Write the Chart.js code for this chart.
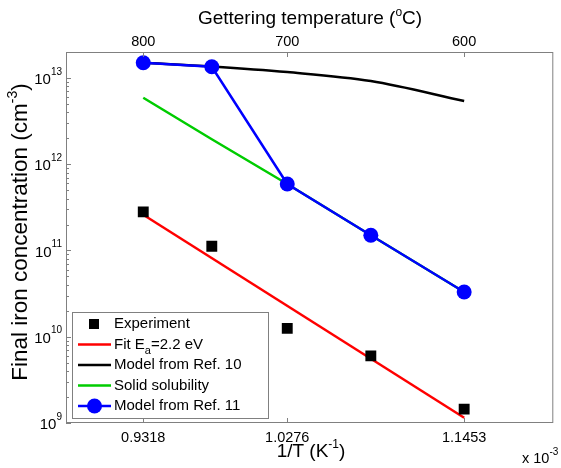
<!DOCTYPE html>
<html>
<head>
<meta charset="utf-8">
<script src="https://cdn.jsdelivr.net/npm/chart.js@4.4.0/dist/chart.umd.min.js"></script>
<style>
  body { margin: 0; background: #fff; }
  canvas { display: block; }
</style>
</head>
<body>
<canvas id="myChart" width="561" height="468"></canvas>
<script>
// Data (1/T in units of 1e-3 K^-1)
var invT = [0.9318, 0.9774, 1.0276, 1.0832, 1.1453];   // 800, 750, 700, 650, 600 C
var experiment = [2.8e11, 1.12e11, 1.25e10, 6.0e9, 1.45e9];
var fitX = [0.9318, 1.1453];
var fitY = [2.6e11, 1.15e9];
var ref10 = [1.5e13, 1.36e13, 1.17e13, 9.2e12, 5.4e12];
var solubility = [5.9e12, 1.95e12, 5.9e11, 1.5e11, 3.3e10];
var ref11 = [1.5e13, 1.35e13, 5.9e11, 1.5e11, 3.3e10];

var bottomTicks = [0.9318, 1.0276, 1.1453];
var topTemps = [800, 700, 600];
var yExponents = [9, 10, 11, 12, 13];

function pts(xs, ys) {
    return xs.map(function (x, i) { return { x: x, y: ys[i] }; });
}

var FONT = "'Liberation Sans', Arial, sans-serif";
var AXIS = "#808080";

// draw text made of parts [{t, size, dy}]
function rich(ctx, parts, x, y, align) {
    var w = 0;
    parts.forEach(function (p) {
        ctx.font = p.size + "px " + FONT;
        p.w = ctx.measureText(p.t).width;
        w += p.w;
    });
    var cx = align === "center" ? x - w / 2 : (align === "right" ? x - w : x);
    ctx.textAlign = "left";
    ctx.textBaseline = "middle";
    parts.forEach(function (p) {
        ctx.font = p.size + "px " + FONT;
        ctx.fillText(p.t, cx, y + (p.dy || 0));
        cx += p.w;
    });
}

var frame = {
    id: "frame",
    afterDraw: function (chart) {
        var ctx = chart.ctx, a = chart.chartArea;
        var xs = chart.scales.x, ys = chart.scales.y;
        ctx.save();
        ctx.strokeStyle = AXIS;
        ctx.lineWidth = 1;
        ctx.strokeRect(a.left + 0.5, a.top + 0.5, a.right - a.left - 1, a.bottom - a.top - 1);

        ctx.beginPath();
        // y ticks, major and minor, inside on left
        yExponents.forEach(function (e) {
            for (var m = 1; m < 10; m++) {
                var v = m * Math.pow(10, e);
                if (v > ys.max) break;
                var py = Math.round(ys.getPixelForValue(v)) + 0.5;
                ctx.moveTo(a.left, py);
                ctx.lineTo(a.left + (m === 1 ? 5 : 3), py);
            }
        });
        // bottom ticks
        bottomTicks.forEach(function (v) {
            var px = Math.round(xs.getPixelForValue(v)) + 0.5;
            ctx.moveTo(px, a.bottom);
            ctx.lineTo(px, a.bottom - 5);
        });
        // top ticks
        topTemps.forEach(function (t) {
            var px = Math.round(xs.getPixelForValue(1000 / (t + 273.15))) + 0.5;
            ctx.moveTo(px, a.top);
            ctx.lineTo(px, a.top + 5);
        });
        ctx.stroke();

        ctx.fillStyle = "#000";
        // tick labels
        yExponents.forEach(function (e) {
            var py = ys.getPixelForValue(Math.pow(10, e));
            rich(ctx, [{ t: "10", size: 15, dy: 2 }, { t: String(e), size: 10, dy: -6 }], 62, py, "right");
        });
        bottomTicks.forEach(function (v) {
            rich(ctx, [{ t: v.toFixed(4), size: 14.5 }], xs.getPixelForValue(v), 438, "center");
        });
        topTemps.forEach(function (t) {
            rich(ctx, [{ t: String(t), size: 14.5 }], xs.getPixelForValue(1000 / (t + 273.15)), 42, "center");
        });
        rich(ctx, [{ t: "x 10", size: 14.5 }, { t: "-3", size: 10, dy: -7 }], 522, 459, "left");

        // axis titles
        rich(ctx, [{ t: "Gettering temperature (", size: 19 }, { t: "o", size: 12, dy: -6 }, { t: "C)", size: 19 }], 310, 19, "center");
        rich(ctx, [{ t: "1/T (K", size: 19 }, { t: "-1", size: 12, dy: -7 }, { t: ")", size: 19 }], 311, 452, "center");
        ctx.save();
        ctx.translate(21, 232);
        ctx.rotate(-Math.PI / 2);
        rich(ctx, [{ t: "Final iron concentration (cm", size: 22.5 }, { t: "-3", size: 14, dy: -8 }, { t: ")", size: 22.5 }], 0, 0, "center");
        ctx.restore();

        // legend
        var lx = 72, ly = 312, lw = 196, lh = 106;
        ctx.fillStyle = "#fff";
        ctx.fillRect(lx, ly, lw, lh);
        ctx.strokeStyle = AXIS;
        ctx.strokeRect(lx + 0.5, ly + 0.5, lw, lh);
        var rows = [
            { ds: 0, parts: [{ t: "Experiment", size: 15 }] },
            { ds: 1, parts: [{ t: "Fit E", size: 15 }, { t: "a", size: 11, dy: 6 }, { t: "=2.2 eV", size: 15 }] },
            { ds: 2, parts: [{ t: "Model from Ref. 10", size: 15 }] },
            { ds: 3, parts: [{ t: "Solid solubility", size: 15 }] },
            { ds: 4, parts: [{ t: "Model from Ref. 11", size: 15 }] }
        ];
        rows.forEach(function (r, i) {
            var d = chart.data.datasets[r.ds];
            var cy = 324 + i * 20.5;
            if (d.showLine !== false) {
                ctx.strokeStyle = d.borderColor;
                ctx.lineWidth = d.borderWidth;
                ctx.beginPath();
                ctx.moveTo(78, cy);
                ctx.lineTo(111, cy);
                ctx.stroke();
            }
            if (d.pointRadius > 0) {
                ctx.fillStyle = d.pointBackgroundColor;
                if (d.pointStyle === "rect") {
                    ctx.fillRect(89, cy - 5, 10, 10);
                } else {
                    ctx.beginPath();
                    ctx.arc(94.5, cy, 7.5, 0, Math.PI * 2);
                    ctx.fill();
                }
            }
            ctx.fillStyle = "#000";
            rich(ctx, r.parts, 114, cy, "left");
        });
        ctx.restore();
    }
};

new Chart("myChart", {
    type: "line",
    data: {
        datasets: [{
            label: "Experiment",
            data: pts(invT, experiment),
            showLine: false,
            pointStyle: "rect",
            pointRadius: 7.7,
            pointBackgroundColor: "#000",
            pointBorderWidth: 0,
            borderColor: "#000",
            order: 1
        }, {
            label: "Fit",
            data: pts(fitX, fitY),
            borderColor: "#ff0000",
            borderWidth: 2.5,
            pointRadius: 0,
            order: 2
        }, {
            label: "Model from Ref. 10",
            data: pts(invT, ref10),
            borderColor: "#000",
            borderWidth: 2.5,
            pointRadius: 0,
            cubicInterpolationMode: "monotone",
            order: 3
        }, {
            label: "Solid solubility",
            data: pts(invT, solubility),
            borderColor: "#00cc00",
            borderWidth: 2.5,
            pointRadius: 0,
            order: 4
        }, {
            label: "Model from Ref. 11",
            data: pts(invT, ref11),
            borderColor: "#0000ff",
            borderWidth: 2.5,
            pointRadius: 7.5,
            pointBackgroundColor: "#0000ff",
            pointBorderWidth: 0,
            order: 0
        }]
    },
    options: {
        responsive: false,
        animation: false,
        devicePixelRatio: 1,
        layout: { padding: { left: 66, right: 3, top: 52, bottom: 45 } },
        plugins: {
            legend: { display: false },
            tooltip: { enabled: false }
        },
        scales: {
            x: { type: "linear", min: 0.8804, max: 1.2046, display: false },
            y: { type: "logarithmic", min: 1e9, max: 2e13, display: false }
        }
    },
    plugins: [frame]
});
</script>
</body>
</html>
